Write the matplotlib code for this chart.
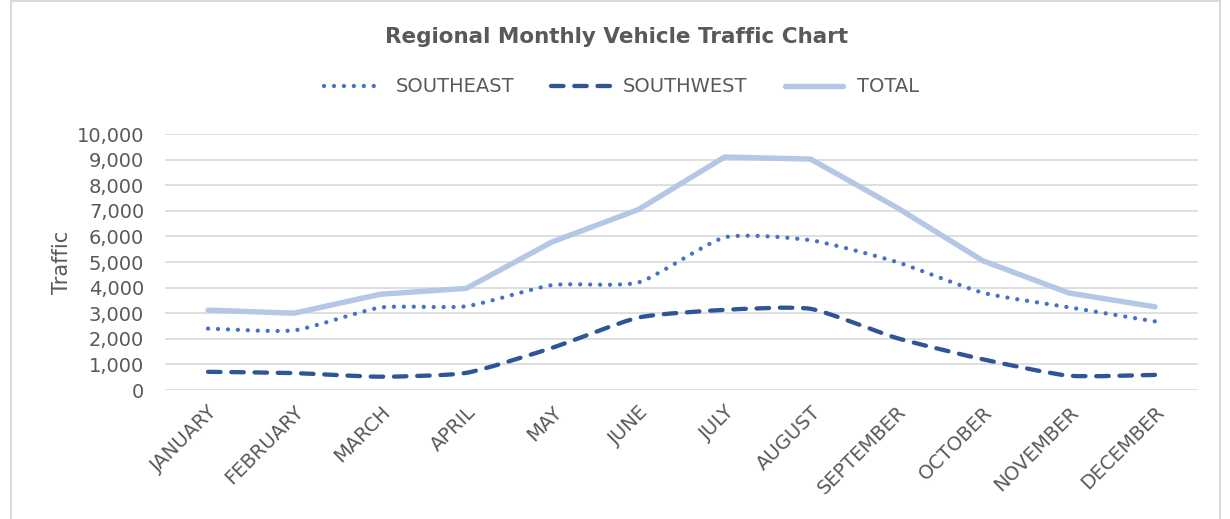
import matplotlib
matplotlib.use("Agg")
import matplotlib.pyplot as plt
from matplotlib.path import Path
from matplotlib.patches import PathPatch, Rectangle
from matplotlib.lines import Line2D
from matplotlib.ticker import FuncFormatter

months = ["JANUARY", "FEBRUARY", "MARCH", "APRIL", "MAY", "JUNE", "JULY",
          "AUGUST", "SEPTEMBER", "OCTOBER", "NOVEMBER", "DECEMBER"]
southeast = [2400, 2330, 3220, 3270, 4100, 4200, 5960, 5850, 5000, 3800, 3230, 2680]
southwest = [710, 660, 520, 670, 1650, 2830, 3130, 3170, 2030, 1200, 560, 590]
total = [3120, 3000, 3740, 3970, 5790, 7050, 9100, 9020, 7130, 5050, 3790, 3250]

GRAY = "#595959"
C_SE = "#4472C4"
C_SW = "#2F5597"
C_TOT = "#B4C7E7"


def smooth_path(xs, ys, k=10):
    # mild bezier smoothing, like Excel's "smoothed line"
    pts = list(zip(xs, ys))
    verts = [pts[0]]
    codes = [Path.MOVETO]
    n = len(pts)
    for i in range(n - 1):
        p0 = pts[i - 1] if i > 0 else pts[i]
        p1 = pts[i]
        p2 = pts[i + 1]
        p3 = pts[i + 2] if i + 2 < n else pts[i + 1]
        c1 = (p1[0] + (p2[0] - p0[0]) / k, p1[1] + (p2[1] - p0[1]) / k)
        c2 = (p2[0] - (p3[0] - p1[0]) / k, p2[1] - (p3[1] - p1[1]) / k)
        verts += [c1, c2, p2]
        codes += [Path.CURVE4] * 3
    return Path(verts, codes)


fig = plt.figure(figsize=(12.3, 5.19), dpi=100)
fig.patches.append(Rectangle((11 / 1230, -0.1), (1220 - 11) / 1230, 1.1 - 1.5 / 519,
                             transform=fig.transFigure, fill=False,
                             edgecolor="#D9D9D9", linewidth=1.5))

ax = fig.add_axes([165 / 1230, 1 - 390 / 519, 1033 / 1230, 256 / 519])
x = list(range(len(months)))

ax.plot(x, total, color=C_TOT, linewidth=3.9, solid_capstyle="round", zorder=3)

se_style = dict(linestyle=(0, (0.01, 2.3)), dash_capstyle="round", linewidth=3.1)
sw_style = dict(linestyle=(0, (2.9, 2.5)), dash_capstyle="round", linewidth=3.1)

ax.add_patch(PathPatch(smooth_path(x, southeast), fill=False, edgecolor=C_SE,
                       capstyle="round", linestyle=se_style["linestyle"],
                       linewidth=se_style["linewidth"], zorder=4))
ax.add_patch(PathPatch(smooth_path(x, southwest), fill=False, edgecolor=C_SW,
                       capstyle="round", linestyle=sw_style["linestyle"],
                       linewidth=sw_style["linewidth"], zorder=4))

ax.set_xlim(-0.5, len(months) - 0.5)
ax.set_ylim(0, 10000)
ax.set_yticks(range(0, 10001, 1000))
ax.yaxis.set_major_formatter(FuncFormatter(lambda v, p: f"{int(v):,}"))
ax.set_xticks(x)
ax.set_xticklabels(months, rotation=45, ha="right", rotation_mode="anchor")
ax.tick_params(axis="both", length=0, labelsize=14, labelcolor=GRAY)
ax.tick_params(axis="x", pad=9)
ax.tick_params(axis="y", pad=15)
ax.grid(axis="y", color="#D9D9D9", linewidth=1.2)
ax.set_axisbelow(True)
for s in ax.spines.values():
    s.set_visible(False)

ax.set_ylabel("Traffic", fontsize=15, color=GRAY, labelpad=3)

fig.text(0.5015, 1 - 37 / 519, "Regional Monthly Vehicle Traffic Chart",
         ha="center", va="center", fontsize=15.5, fontweight="bold", color=GRAY)

handles = [
    Line2D([], [], color=C_SE, **se_style),
    Line2D([], [], color=C_SW, **sw_style),
    Line2D([], [], color=C_TOT, linewidth=3.9, solid_capstyle="round"),
]
fig.legend(handles, ["SOUTHEAST", "SOUTHWEST", "TOTAL"], loc="center",
           bbox_to_anchor=(0.505, 1 - 87 / 519), ncol=3, frameon=False,
           fontsize=14, labelcolor=GRAY, handlelength=3.0, handletextpad=0.7,
           columnspacing=1.9)

fig.savefig("out.png", dpi=100, facecolor="white")
